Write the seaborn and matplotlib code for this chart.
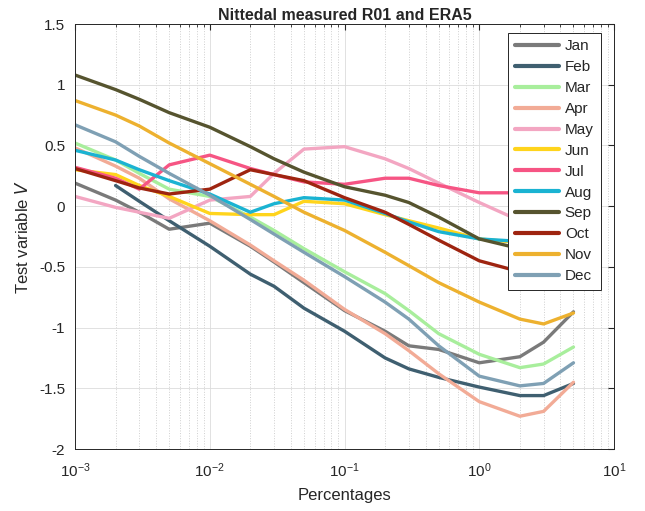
import numpy as np
import pandas as pd
import matplotlib
matplotlib.use("Agg")
import matplotlib.pyplot as plt
import seaborn as sns
from matplotlib.ticker import LogLocator, NullFormatter

# Exceedance percentages (x axis, log scale)
percentages = [0.001, 0.002, 0.003, 0.005, 0.01, 0.02, 0.03, 0.05,
               0.1, 0.2, 0.3, 0.5, 1, 2, 3, 5]

months = ["Jan", "Feb", "Mar", "Apr", "May", "Jun",
          "Jul", "Aug", "Sep", "Oct", "Nov", "Dec"]

jan = [0.19, 0.05, -0.05, -0.19, -0.14, -0.33, -0.46, -0.63, -0.86, -1.03, -1.15, -1.18, -1.29, -1.24, -1.12, -0.87]
feb = [np.nan, 0.17, 0.04, -0.12, -0.33, -0.56, -0.66, -0.84, -1.03, -1.25, -1.34, -1.41, -1.49, -1.56, -1.56, -1.46]
mar = [0.52, 0.38, 0.27, 0.14, 0.08, -0.09, -0.20, -0.35, -0.54, -0.72, -0.86, -1.05, -1.22, -1.33, -1.30, -1.16]
apr = [0.48, 0.33, 0.23, 0.06, -0.12, -0.32, -0.45, -0.61, -0.85, -1.05, -1.19, -1.38, -1.61, -1.73, -1.69, -1.45]
may = [0.08, -0.01, -0.05, -0.10, 0.05, 0.08, 0.27, 0.47, 0.49, 0.39, 0.31, 0.19, 0.03, -0.12, -0.20, -0.30]
jun = [0.30, 0.26, 0.17, 0.08, -0.06, -0.07, -0.07, 0.04, 0.02, -0.07, -0.12, -0.18, -0.27, -0.30, -0.32, -0.35]
jul = [0.32, 0.23, 0.14, 0.34, 0.42, 0.31, 0.26, 0.20, 0.18, 0.23, 0.23, 0.17, 0.11, 0.11, 0.10, 0.08]
aug = [0.46, 0.38, 0.30, 0.21, 0.10, -0.05, 0.02, 0.07, 0.05, -0.06, -0.13, -0.21, -0.27, -0.29, -0.30, -0.32]
sep = [1.08, 0.96, 0.88, 0.77, 0.65, 0.49, 0.39, 0.28, 0.16, 0.09, 0.03, -0.09, -0.27, -0.35, -0.40, -0.45]
oct_ = [0.31, 0.21, 0.15, 0.10, 0.14, 0.30, 0.26, 0.21, 0.07, -0.05, -0.15, -0.28, -0.45, -0.54, -0.57, -0.60]
nov = [0.87, 0.75, 0.66, 0.52, 0.35, 0.18, 0.08, -0.05, -0.20, -0.38, -0.49, -0.63, -0.79, -0.93, -0.97, -0.88]
dec = [0.67, 0.53, 0.41, 0.27, 0.09, -0.11, -0.23, -0.38, -0.58, -0.79, -0.93, -1.15, -1.40, -1.48, -1.46, -1.29]

series = [jan, feb, mar, apr, may, jun, jul, aug, sep, oct_, nov, dec]

colors = ["#7a7a7a", "#3f5f70", "#a8ee9c", "#f2ab96", "#f3a6c2", "#ffd41c",
          "#f65584", "#1ab3d2", "#56542f", "#9e2410", "#edb12f", "#7fa0b4"]

rows = []
for m, vals in zip(months, series):
    for p, v in zip(percentages, vals):
        rows.append({"Percentages": p, "V": v, "Month": m})
df = pd.DataFrame(rows).dropna()

sns.set_style("white")
plt.rcParams["font.family"] = ["Liberation Sans", "DejaVu Sans"]

fig = plt.figure(figsize=(6.45, 5.11), dpi=100)
ax = fig.add_axes([0.1163, 0.1213, 0.8357, 0.8317])

sns.lineplot(data=df, x="Percentages", y="V", hue="Month",
             hue_order=months, palette=colors, linewidth=2.4,
             ax=ax, sort=False, estimator=None)

ax.set_xscale("log")
ax.set_xlim(1e-3, 1e1)
ax.set_ylim(-2, 1.5)
ax.set_yticks([-2, -1.5, -1, -0.5, 0, 0.5, 1, 1.5])
ax.set_yticklabels(["-2", "-1.5", "-1", "-0.5", "0", "0.5", "1", "1.5"])
ax.xaxis.set_major_locator(LogLocator(base=10, numticks=10))
ax.xaxis.set_minor_locator(LogLocator(base=10, subs=np.arange(2, 10), numticks=20))
ax.xaxis.set_minor_formatter(NullFormatter())

ax.grid(True, which="major", color="#dcdcdc", linewidth=0.6)
ax.grid(True, which="minor", axis="x", color="#cfcfcf", linestyle=":", linewidth=0.7)
ax.set_axisbelow(True)

for s in ax.spines.values():
    s.set_color("#262626")
    s.set_linewidth(0.7)
ax.tick_params(which="both", direction="in", top=True, right=True,
               colors="#262626", labelsize=11)
ax.tick_params(which="major", length=4)
ax.tick_params(which="minor", length=2)
ax.tick_params(axis="x", which="major", pad=9)
ax.tick_params(axis="y", which="major", pad=7)

ax.set_xlabel("Percentages", fontsize=12, color="#262626", labelpad=6)
ax.set_ylabel("Test variable $\\it{V}$", fontsize=12, color="#262626", labelpad=6)
ax.set_title("Nittedal measured R01 and ERA5", fontsize=11.5,
             fontweight="bold", pad=3)

leg = ax.legend(loc="upper right", bbox_to_anchor=(0.975, 0.98),
                frameon=True, fancybox=False, fontsize=11,
                handlelength=2.9, handletextpad=0.35, labelspacing=0.45,
                borderpad=0.45, borderaxespad=0)
leg.get_frame().set_edgecolor("#262626")
leg.get_frame().set_linewidth(0.7)
leg.get_frame().set_alpha(1)
for line in leg.get_lines():
    line.set_linewidth(3)

fig.savefig("out.png", dpi=100)
